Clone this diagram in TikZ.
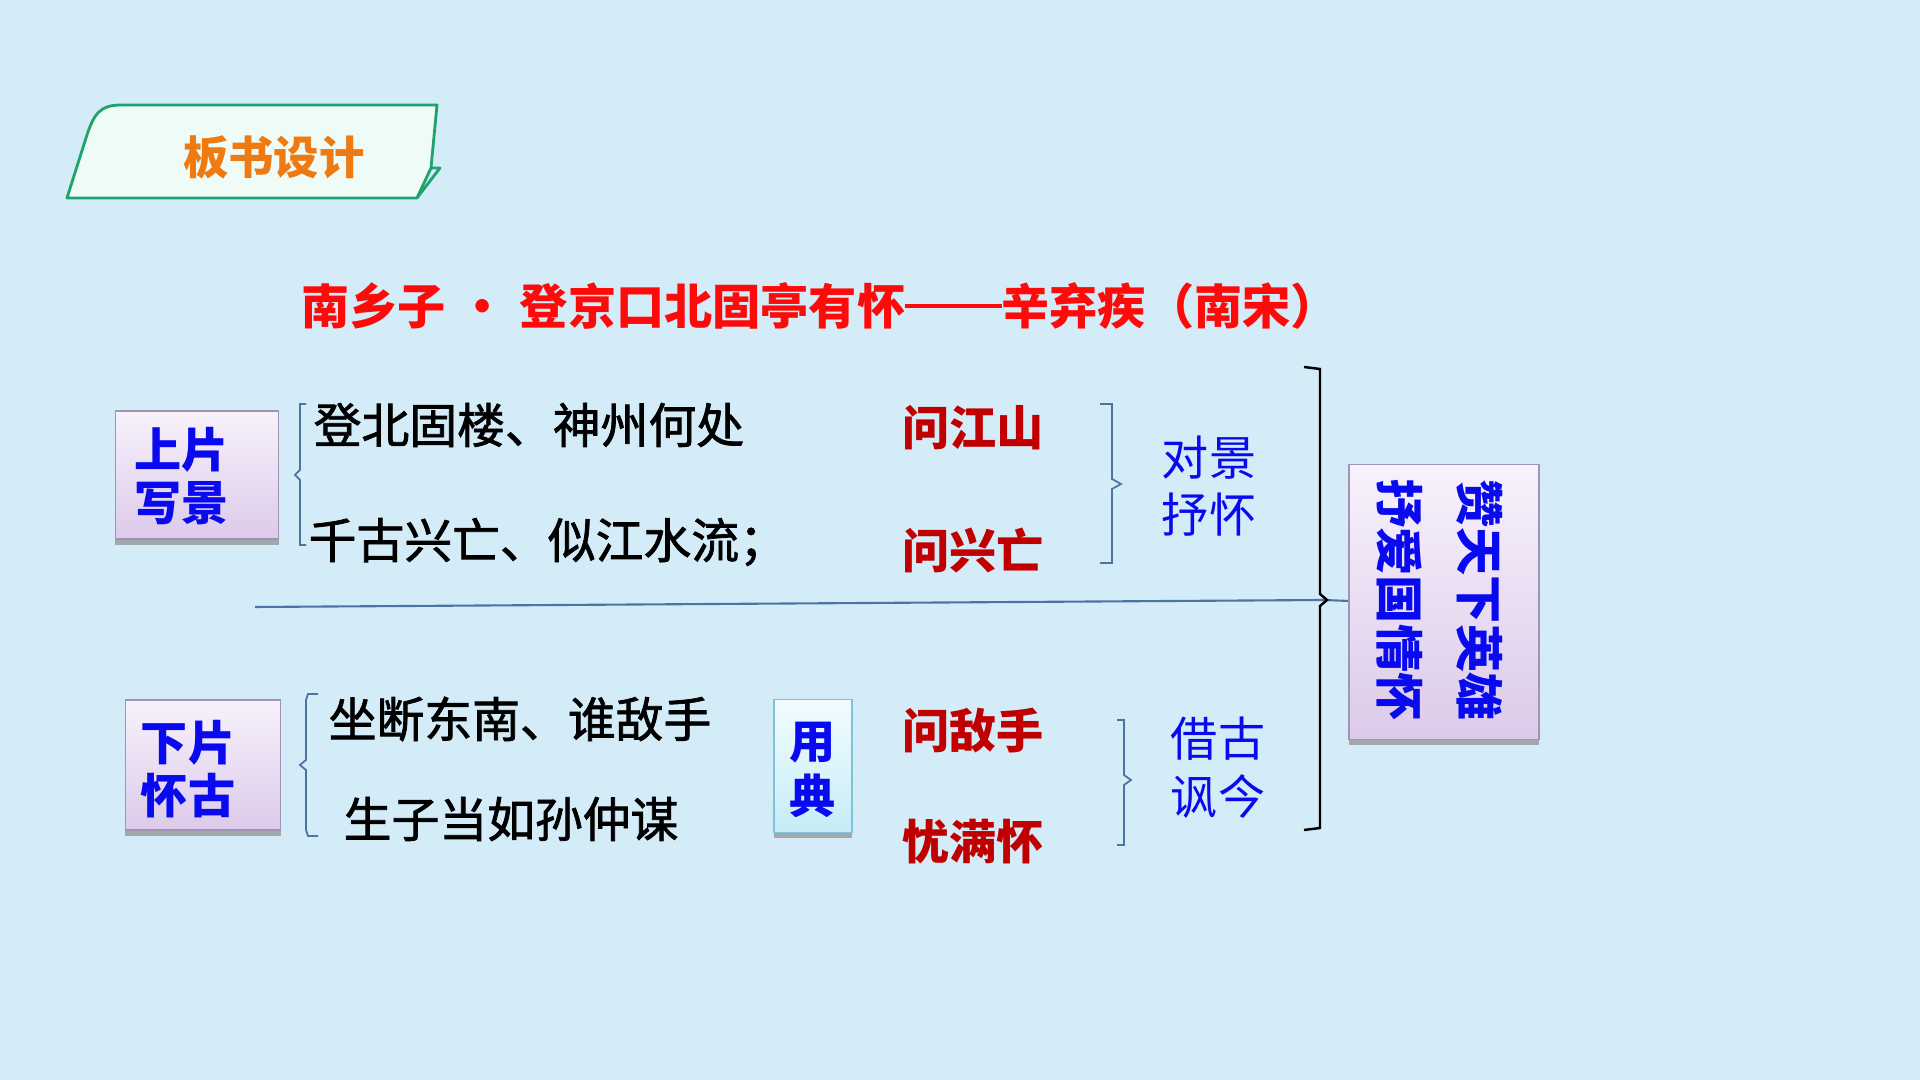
\documentclass[tikz,border=0pt]{standalone}
\usepackage{fontspec}
\usepackage{xcolor}
\usetikzlibrary{shadows}
\newfontfamily\cjk{Noto Sans CJK SC}
\newfontfamily\cjkmid[FakeBold=1.6]{Noto Sans CJK SC}
\definecolor{pagebg}{HTML}{D3ECF7}
\definecolor{tabgreen}{HTML}{1FA36C}
\definecolor{tabfill}{HTML}{EEFBF6}
\definecolor{taborange}{HTML}{F07A12}
\definecolor{titlered}{HTML}{FF0A0A}
\definecolor{askred}{HTML}{C00000}
\definecolor{headblue}{HTML}{0A0AF0}
\definecolor{bracegray}{HTML}{4F72A6}
\definecolor{boxedge}{HTML}{A093B6}
\definecolor{boxtop}{HTML}{F8F2FC}
\definecolor{boxbot}{HTML}{DCCAE9}
\definecolor{cyantop}{HTML}{F2FCFF}
\definecolor{cyanbot}{HTML}{C6ECF7}
\definecolor{cyanedge}{HTML}{7CC4D6}

\begin{document}
\begin{tikzpicture}[
  x=0.01cm, y=-0.01cm,
  line/.style={font=\cjkmid\fontsize{13.6pt}{16pt}\selectfont, anchor=west, inner sep=0pt},
  ask/.style={font=\cjk\bfseries\fontsize{13.4pt}{16pt}\selectfont, color=askred, anchor=west, inner sep=0pt},
  head/.style={font=\cjk\bfseries\fontsize{13.4pt}{15.1pt}\selectfont, color=headblue, align=left, inner sep=0pt},
  note/.style={font=\cjk\fontsize{13.4pt}{16.4pt}\selectfont, color=headblue, align=left, inner sep=0pt},
  partbox/.style={draw=boxedge, line width=0.5pt, top color=boxtop, bottom color=boxbot,
    drop shadow={shadow xshift=0pt, shadow yshift=-1.6pt, fill=black!45, opacity=0.7}},
  brace/.style={draw=bracegray, line width=0.5pt},
]
  % Page
  \fill[pagebg] (0,0) rectangle (1920,1080);
  \useasboundingbox (0,0) rectangle (1920,1080);

  % Tab
  \filldraw[draw=tabgreen, fill=tabfill, line width=0.8pt, line join=round]
    (67,198) -- (86,138) .. controls (94,113) and (100,105) .. (122,105) -- (437,105)
    -- (431,168) -- (417,198) -- cycle;
  \draw[tabgreen, line width=0.8pt, line join=round] (431,168) -- (440,168) -- (417,198);
  \node[font=\cjk\bfseries\fontsize{12.9pt}{15pt}\selectfont, color=taborange] (tab) at (274,157) {板书设计};

  % Title
  \node[font=\cjk\bfseries\fontsize{13.7pt}{15pt}\selectfont, color=titlered] (title) at (820,306)
    {南乡子\hspace{0.27em}·\hspace{0.27em}登京口北固亭有怀\rule[0.34em]{2em}{0.08em}辛弃疾（南宋）};

  % Upper part
  \node[partbox, minimum width=1.63cm, minimum height=1.28cm] (upper) at (197,475) {};
  \node[head] (upperT) at (182,476) {上片\\写景};
  \draw[brace] (306,404) -- (300,404) -- (300,470) -- (295,475) -- (300,480) -- (300,545) -- (306,545);
  \node[line] (l1) at (313,425) {登北固楼、神州何处};
  \node[line] (l2) at (308,542) {千古兴亡、似江水流；};
  \node[ask] (a1) at (902,428) {问江山};
  \node[ask] (a2) at (902,551) {问兴亡};
  \draw[brace] (1100,404) -- (1112,404) -- (1112,479) -- (1121,484) -- (1112,489) -- (1112,563) -- (1100,563);
  \node[note] (n1) at (1209,486) {对景\\抒怀};

  % Divider
  \coordinate (lineL) at (255,607);
  \draw[bracegray, line width=0.6pt] (lineL) -- (1324,600) -- (1349,601);

  % Lower part
  \node[partbox, minimum width=1.55cm, minimum height=1.3cm] (lower) at (203,765) {};
  \node[head] (lowerT) at (188,769) {下片\\怀古};
  \draw[brace] (318,694) -- (308,694) -- (306,700) -- (306,760) -- (300,765) -- (306,770) -- (306,830) -- (308,836) -- (318,836);
  \node[line] (l3) at (328,719) {坐断东南、谁敌手};
  \node[line] (l4) at (343,819) {生子当如孙仲谋};
  \node[draw=cyanedge, line width=0.5pt, top color=cyantop, bottom color=cyanbot,
    drop shadow={shadow xshift=0pt, shadow yshift=-1.6pt, fill=black!45, opacity=0.7},
    minimum width=0.78cm, minimum height=1.33cm] (dian) at (813,766) {};
  \node[head, align=center, font=\cjk\bfseries\fontsize{13.1pt}{15.6pt}\selectfont] (dianT) at (813,770) {用\\典};
  \node[ask] (a3) at (902,731) {问敌手};
  \node[ask] (a4) at (902,842) {忧满怀};
  \draw[brace] (1117,720) -- (1124,720) -- (1124,775) -- (1131,780) -- (1124,785) -- (1124,845) -- (1117,845);
  \node[note] (n2) at (1218,768) {借古\\讽今};

  % Summary
  \draw[black, line width=0.7pt] (1304,367) -- (1320,369) -- (1320,594) -- (1327,600) -- (1320,606) -- (1320,828) -- (1304,830);
  \node[partbox, minimum width=1.9cm, minimum height=2.75cm] (vbox) at (1444,602) {};
  \node[font=\cjk\bfseries\fontsize{13.7pt}{22.8pt}\selectfont, color=headblue, rotate=-90, align=center, inner sep=0pt]
    (vboxT) at (1440,600) {赞天下英雄\\抒爱国情怀};
\end{tikzpicture}
\end{document}
